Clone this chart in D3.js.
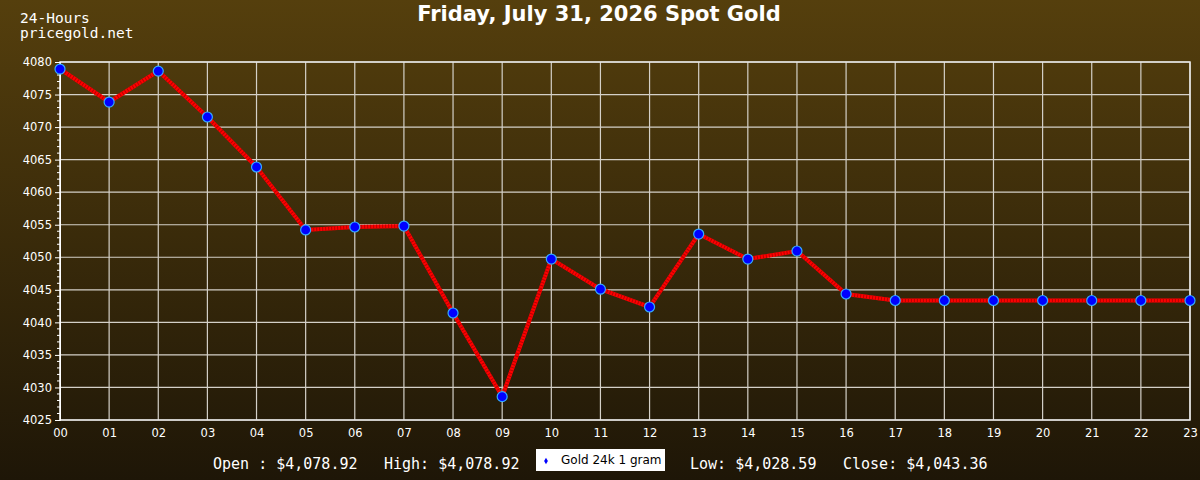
<!DOCTYPE html>
<html>
<head>
<meta charset="utf-8">
<script src="https://cdn.jsdelivr.net/npm/d3@7"></script>
<style>
  html, body { margin: 0; padding: 0; background: #2a1f0a; }
  #chart { width: 1200px; height: 480px; }
  text { fill: #ffffff; }
</style>
</head>
<body>
<div id="chart"></div>
<script>
const hours = ["00","01","02","03","04","05","06","07","08","09","10","11",
               "12","13","14","15","16","17","18","19","20","21","22","23"];
const prices = [4078.92, 4073.85, 4078.6, 4071.55, 4063.87, 4054.2, 4054.65, 4054.8,
                4041.44, 4028.59, 4049.73, 4045.1, 4042.36, 4053.57, 4049.73, 4050.96,
                4044.36, 4043.36, 4043.36, 4043.36, 4043.36, 4043.36, 4043.36, 4043.36];
const yTicks = [4025, 4030, 4035, 4040, 4045, 4050, 4055, 4060, 4065, 4070, 4075, 4080];
const titleText = "Friday, July 31, 2026 Spot Gold";
const stats = [
  { label: "Open : ", value: "$4,078.92" },
  { label: "High: ", value: "$4,078.92" },
  { label: "Low: ", value: "$4,028.59" },
  { label: "Close: ", value: "$4,043.36" }
];
const seriesName = "Gold 24k 1 gram";

function renderChart() {
  const container = d3.select("#chart");
  const width = 1200, height = 480;
  const margin = { top: 62, right: 10, bottom: 60, left: 60 };
  const innerW = width - margin.left - margin.right;
  const innerH = height - margin.top - margin.bottom;

  const svg = container.append("svg").attr("width", width).attr("height", height);

  const grad = svg.append("defs").append("linearGradient")
    .attr("id", "bg").attr("x1", 0).attr("y1", 0).attr("x2", 0).attr("y2", 1);
  grad.append("stop").attr("offset", "0%").attr("stop-color", "#553f0d");
  grad.append("stop").attr("offset", "100%").attr("stop-color", "#1e1607");

  svg.append("rect").attr("width", width).attr("height", height).attr("fill", "url(#bg)");

  svg.append("text")
    .attr("x", 599).attr("y", 21)
    .attr("text-anchor", "middle")
    .style("font", "bold 21px 'DejaVu Sans'")
    .text(titleText);

  svg.append("text").attr("x", 20).attr("y", 23)
    .style("font", "14.5px 'DejaVu Sans Mono'").text("24-Hours");
  svg.append("text").attr("x", 20).attr("y", 38)
    .style("font", "14.5px 'DejaVu Sans Mono'").text("pricegold.net");

  const x = d3.scalePoint().domain(hours).range([0, innerW]);
  const y = d3.scaleLinear().domain([4025, 4080]).range([innerH, 0]);

  const g = svg.append("g").attr("transform", `translate(${margin.left},${margin.top})`);

  // grid
  g.selectAll(".hgrid").data(yTicks).enter().append("line")
    .attr("x1", 0).attr("x2", innerW)
    .attr("y1", d => y(d)).attr("y2", d => y(d))
    .attr("stroke", "#d4d0c8").attr("stroke-width", 1.2);
  g.selectAll(".vgrid").data(hours).enter().append("line")
    .attr("x1", d => x(d)).attr("x2", d => x(d))
    .attr("y1", 0).attr("y2", innerH)
    .attr("stroke", "#d4d0c8").attr("stroke-width", 1.2);

  g.append("rect").attr("width", innerW).attr("height", innerH)
    .attr("fill", "none").attr("stroke", "#e8e8e8").attr("stroke-width", 1.5);

  // minor ticks
  const minor = d3.range(4025, 4081, 1).filter(v => v % 5 !== 0);
  g.selectAll(".minor").data(minor).enter().append("line")
    .attr("x1", -3).attr("x2", 0)
    .attr("y1", d => y(d)).attr("y2", d => y(d))
    .attr("stroke", "#ffffff").attr("stroke-width", 1);

  const yAxis = g.append("g")
    .call(d3.axisLeft(y).tickValues(yTicks).tickSize(5).tickPadding(3).tickFormat(d3.format("d")));
  yAxis.select(".domain").attr("stroke", "#ffffff");
  yAxis.selectAll(".tick line").attr("stroke", "#ffffff");
  yAxis.selectAll("text").style("font", "11.5px 'DejaVu Sans'").attr("fill", "#ffffff");

  const xAxis = g.append("g").attr("transform", `translate(0,${innerH})`)
    .call(d3.axisBottom(x).tickSize(0).tickPadding(9));
  xAxis.select(".domain").remove();
  xAxis.selectAll("text").style("font", "11.5px 'DejaVu Sans'").attr("fill", "#ffffff");

  const pts = hours.map((h, i) => ({ h, v: prices[i] }));

  const line = d3.line().x(d => x(d.h)).y(d => y(d.v));
  g.append("path").datum(pts)
    .attr("d", line)
    .attr("fill", "none")
    .attr("stroke", "#ff0000")
    .attr("stroke-width", 4);
  g.append("path").datum(pts)
    .attr("d", line)
    .attr("fill", "none")
    .attr("stroke", "#b80000")
    .attr("stroke-width", 4)
    .attr("stroke-dasharray", "1 2");

  g.selectAll(".pt").data(pts).enter().append("circle")
    .attr("cx", d => x(d.h)).attr("cy", d => y(d.v))
    .attr("r", 5)
    .attr("fill", "#0000ff")
    .attr("stroke", "#33aaff")
    .attr("stroke-width", 1.2);

  // footer stats
  const statFont = "15px 'DejaVu Sans Mono'";
  const statPos = [213, 384, 690, 843];
  stats.forEach((s, i) => {
    svg.append("text").attr("x", statPos[i]).attr("y", 469)
      .style("font", statFont).text(s.label + s.value);
  });

  const lg = svg.append("g").attr("transform", "translate(536,449)");
  lg.append("rect").attr("width", 129).attr("height", 22).attr("fill", "#ffffff");
  lg.append("path").attr("d", d3.symbol(d3.symbolDiamond, 12)())
    .attr("transform", "translate(10,12)").attr("fill", "#0000ff");
  lg.append("text").attr("x", 25).attr("y", 15)
    .style("font", "12px 'DejaVu Sans'").style("fill", "#000000").text(seriesName);
}

renderChart();
</script>
</body>
</html>
